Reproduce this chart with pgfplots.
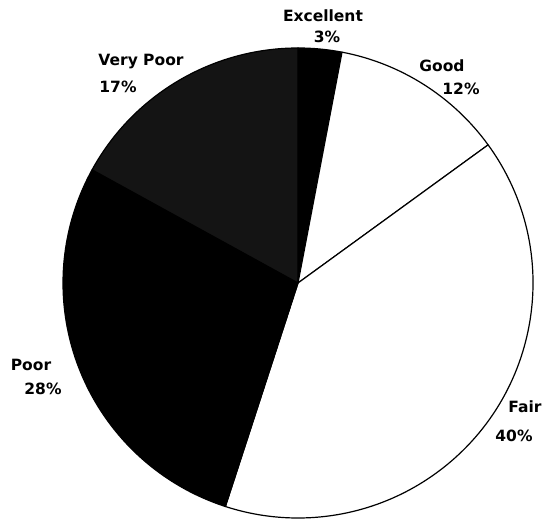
\documentclass[border=0pt]{standalone}
\usepackage{pgfplots}
\pgfplotsset{compat=1.18}
\usepackage{pgfplotstable}
\usepackage{fontspec}
\setmainfont{DejaVu Sans}
\pgfplotstableread{
x y cum pct shade
298 238 0 3 100
298 238 3 12 0
298 238 15 40 0
298 238 55 28 100
298 238 83 17 92
}\piedata
\begin{document}
\begin{tikzpicture}
\begin{axis}[
  scale only axis, width=543pt, height=521pt,
  xmin=0, xmax=543, ymin=0, ymax=521,
  hide axis, clip=false,
]
\addplot[scatter, only marks, mark=*, mark size=0pt,
  visualization depends on={\thisrow{cum}\as\cum},
  visualization depends on={\thisrow{pct}\as\pct},
  visualization depends on={\thisrow{shade}\as\shade},
  scatter/@pre marker code/.code={%
    \begingroup
    \pgfkeys{/pgf/fpu=true,/pgf/fpu/output format=fixed}%
    \pgfmathsetmacro\sa{90-3.6*\cum}%
    \pgfmathsetmacro\sb{90-3.6*(\cum+\pct)}%
    \pgfmathsetmacro\sh{round(\shade)}%
    \pgfkeys{/pgf/fpu=false}%
    \path[fill=black!\sh, draw=black, line width=1.2pt, line join=round]
      (0,0) -- (\sa:235pt) arc[start angle=\sa, end angle=\sb, radius=235pt] -- cycle;
    \endgroup
  },
  scatter/@post marker code/.code={},
] table {\piedata};
\begin{scope}[every node/.style={anchor=base, font=\fontsize{15.5}{18}\selectfont\bfseries, inner sep=0pt}]
\node at (axis cs:323,499) {Excellent};
\node at (axis cs:327,478) {3\%};
\node at (axis cs:442,449) {Good};
\node at (axis cs:461,426) {12\%};
\node at (axis cs:141,455) {Very Poor};
\node at (axis cs:118,428) {17\%};
\node at (axis cs:31,150) {Poor};
\node at (axis cs:43,126) {28\%};
\node at (axis cs:525,108) {Fair};
\node at (axis cs:514,79) {40\%};
\end{scope}
\end{axis}
\pgfresetboundingbox
\path[use as bounding box] (current axis.south west) rectangle (current axis.north east);
\end{tikzpicture}
\end{document}
